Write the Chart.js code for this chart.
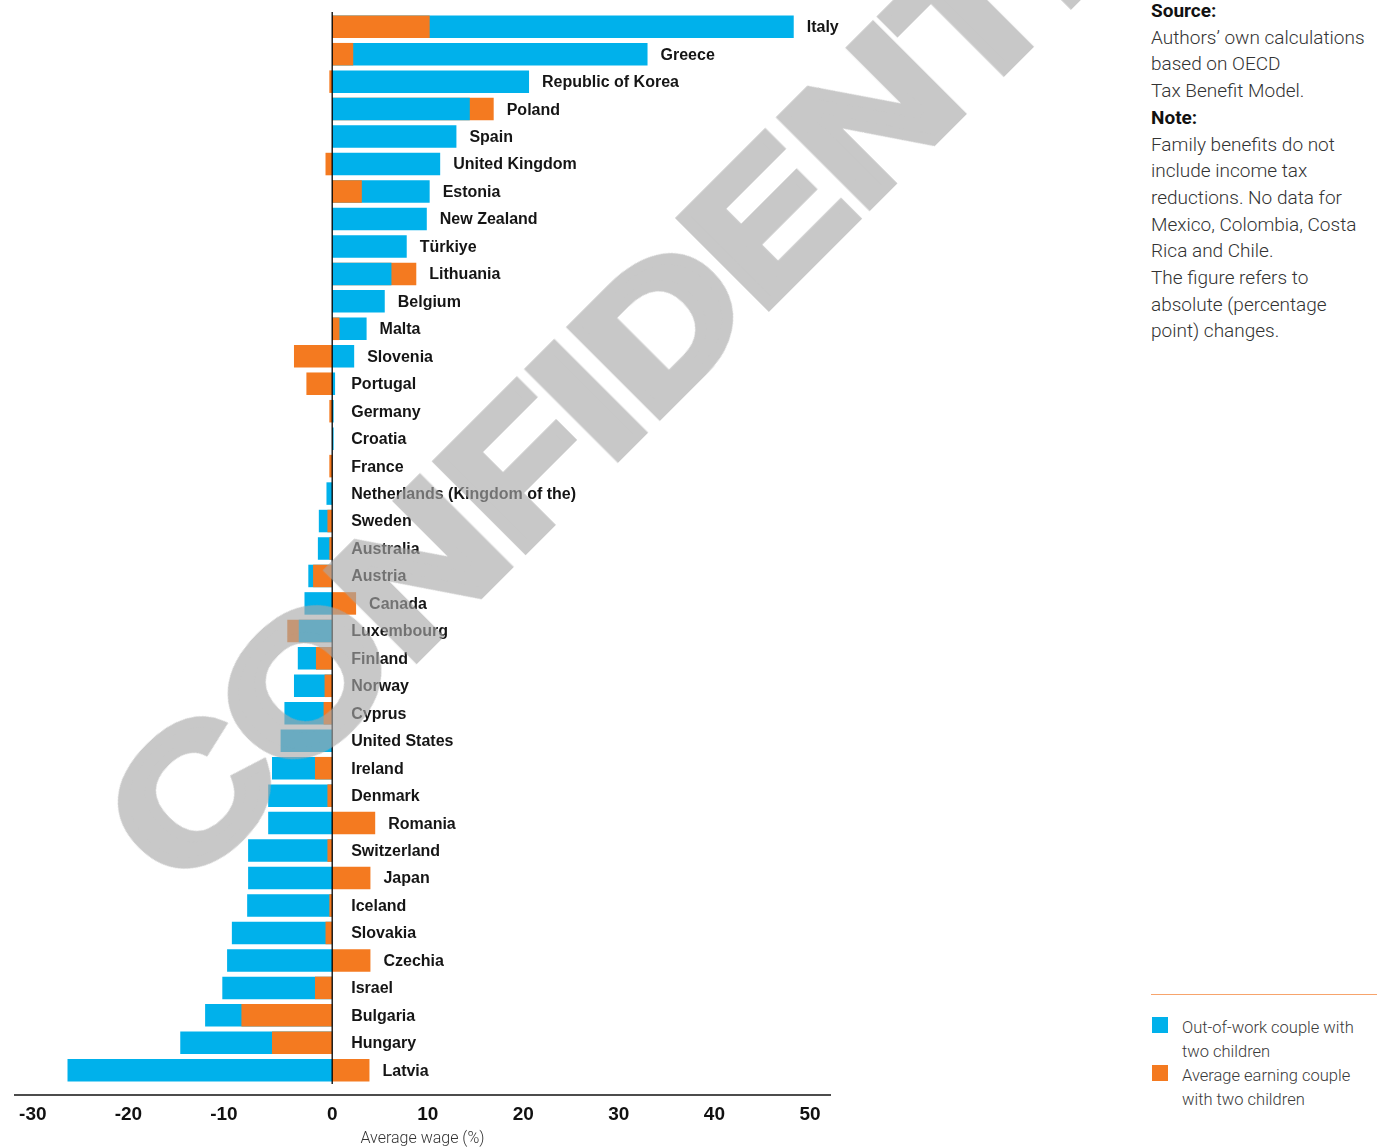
<!DOCTYPE html>
<html>
<head>
<meta charset="utf-8">
<script src="https://cdn.jsdelivr.net/npm/chart.js@4.4.1/dist/chart.umd.min.js"></script>
<style>
  body { margin: 0; width: 1377px; height: 1147px; overflow: hidden; background: #fff; position: relative; font-family: "Liberation Sans", Arial, sans-serif; }
  #wrap { position: absolute; left: 0; top: 0; width: 860px; height: 1147px; }
  #side { position: absolute; left: 1151px; top: -2px; width: 226px; font-family: Roboto, "Liberation Sans", Arial, sans-serif; font-weight: 300; font-size: 19px; line-height: 26.7px; color: #333; white-space: nowrap; }
  #side b { font-weight: 700; color: #111; }
  #rule { position: absolute; left: 1151px; top: 994px; width: 226px; height: 0; border-top: 1px solid #f7a46c; }
  .leg { position: absolute; left: 1151px; width: 226px; font-family: Roboto, "Liberation Sans", Arial, sans-serif; font-weight: 300; font-size: 16.5px; line-height: 24px; color: #3a3a3a; white-space: nowrap; }
  .leg span.box { position: absolute; left: 1px; top: 1px; width: 16px; height: 16px; }
  .leg div { margin-left: 31px; }
  #mark { position: absolute; left: 181px; top: 743px; font-family: "Liberation Sans", Arial, sans-serif; font-weight: 700; font-size: 178px; line-height: 1; white-space: nowrap; color: #a8a8a8; -webkit-text-stroke: 10px #a8a8a8; opacity: 0.63; transform: rotate(-45deg) scaleX(1.2); transform-origin: 0 150.7px; pointer-events: none; z-index: 5; }
</style>
</head>
<body>
<div id="wrap"><canvas id="chart" width="860" height="1147"></canvas></div>

<div id="side">
  <b>Source:</b><br>
  Authors’ own calculations<br>
  based on OECD<br>
  Tax Benefit Model.<br>
  <b>Note:</b><br>
  Family benefits do not<br>
  include income tax<br>
  reductions. No data for<br>
  Mexico, Colombia, Costa<br>
  Rica and Chile.<br>
  The figure refers to<br>
  absolute (percentage<br>
  point) changes.
</div>

<div id="rule"></div>
<div class="leg" style="top:1016px"><span class="box" style="background:#00b1eb"></span><div>Out-of-work couple with<br>two children</div></div>
<div class="leg" style="top:1064px"><span class="box" style="background:#f47a20"></span><div>Average earning couple<br>with two children</div></div>

<div id="mark">CONFIDENTIAL</div>

<script>
// countries, top to bottom
const countries = ["Italy", "Greece", "Republic of Korea", "Poland", "Spain", "United Kingdom", "Estonia",
  "New Zealand", "Türkiye", "Lithuania", "Belgium", "Malta", "Slovenia", "Portugal", "Germany", "Croatia",
  "France", "Netherlands (Kingdom of the)", "Sweden", "Australia", "Austria", "Canada", "Luxembourg",
  "Finland", "Norway", "Cyprus", "United States", "Ireland", "Denmark", "Romania", "Switzerland", "Japan",
  "Iceland", "Slovakia", "Czechia", "Israel", "Bulgaria", "Hungary", "Latvia"];

// out-of-work couple with two children (blue)
const outOfWork = [48.3, 33.0, 20.6, 14.4, 13.0, 11.3, 10.2, 9.9, 7.8, 6.2, 5.5, 3.6, 2.3, 0.3, 0.15, 0.15,
  0, -0.6, -1.4, -1.5, -2.5, -2.9, -3.5, -3.6, -4.0, -5.0, -5.4, -6.3, -6.7, -6.7, -8.8, -8.8,
  -8.9, -10.5, -11.0, -11.5, -13.3, -15.9, -27.7];

// average earning couple with two children (orange)
const averageEarning = [10.2, 2.2, -0.3, 16.9, 0, -0.7, 3.1, 0, 0, 8.8, 0, 0.76, -4.0, -2.7, -0.3, 0,
  -0.3, 0, -0.5, -0.3, -2.0, 2.5, -4.7, -1.7, -0.8, -0.9, 0, -1.8, -0.5, 4.5, -0.5, 4.0,
  -0.3, -0.7, 4.0, -1.8, -9.5, -6.3, 3.9];

const tickValues = [-30, -20, -10, 0, 10, 20, 30, 40, 50];

const BLUE = "#00b1eb";
const ORANGE = "#f47a20";

// the shorter bar of each pair sits on top of the longer one
const blueIsLonger = outOfWork.map((v, i) => Math.abs(v) >= Math.abs(averageEarning[i]));

function makeSet(values, color, pick) {
  return {
    data: values.map((v, i) => pick(i) ? v : null),
    backgroundColor: color,
    borderWidth: 0,
    grouped: false,
    categoryPercentage: 1,
    barPercentage: 0.82
  };
}

// Chart.js paints dataset 0 last, so the front bars come first
const datasets = [
  makeSet(outOfWork, BLUE, i => !blueIsLonger[i]),
  makeSet(averageEarning, ORANGE, i => blueIsLonger[i]),
  makeSet(outOfWork, BLUE, i => blueIsLonger[i]),
  makeSet(averageEarning, ORANGE, i => !blueIsLonger[i])
];

const decor = {
  id: "decor",
  afterDatasetsDraw(chart) {
    const ctx = chart.ctx;
    const xs = chart.scales.x;
    const ys = chart.scales.y;
    const area = chart.chartArea;
    const x0 = xs.getPixelForValue(0);

    ctx.save();
    // zero line
    ctx.strokeStyle = "#000";
    ctx.lineWidth = 1.3;
    ctx.beginPath();
    ctx.moveTo(x0, area.top - 1);
    ctx.lineTo(x0, area.bottom);
    ctx.stroke();

    // axis line
    const axisY = area.bottom + 11;
    ctx.lineWidth = 1.5;
    ctx.strokeStyle = "#111";
    ctx.beginPath();
    ctx.moveTo(area.left, axisY);
    ctx.lineTo(area.right, axisY);
    ctx.stroke();

    // tick labels
    ctx.fillStyle = "#111";
    ctx.font = "bold 19px 'Liberation Sans', Arial, sans-serif";
    ctx.textBaseline = "middle";
    tickValues.forEach(v => {
      const x = xs.getPixelForValue(v);
      ctx.textAlign = v < 0 ? "right" : "center";
      ctx.fillText(String(v), v < 0 ? x + 1 : x, axisY + 20);
    });

    // country labels
    ctx.font = "bold 16px 'Liberation Sans', Arial, sans-serif";
    ctx.textAlign = "left";
    ctx.fillStyle = "#151515";
    countries.forEach((c, i) => {
      const end = Math.max(0, outOfWork[i], averageEarning[i]);
      const x = end > 0 ? Math.max(x0 + 19, xs.getPixelForValue(end) + 13) : x0 + 19;
      ctx.fillText(c, x, ys.getPixelForValue(i) + 1);
    });
    ctx.restore();
  }
};

new Chart(document.getElementById("chart"), {
  type: "bar",
  data: { labels: countries, datasets: datasets },
  options: {
    indexAxis: "y",
    responsive: false,
    animation: false,
    layout: { padding: { left: 14, right: 29, top: 13, bottom: 0 } },
    plugins: { legend: { display: false }, tooltip: { enabled: false } },
    scales: {
      y: { display: false },
      x: {
        type: "linear",
        min: -33.3,
        max: 52.2,
        ticks: { display: false },
        grid: { display: false, drawTicks: false },
        border: { display: false },
        title: {
          display: true,
          text: "Average wage (%)",
          color: "#333",
          font: { family: "Roboto, 'Liberation Sans', Arial, sans-serif", size: 16, weight: "300", lineHeight: 1 },
          padding: { top: 47, bottom: 0 }
        }
      }
    }
  },
  plugins: [decor]
});
</script>
</body>
</html>
